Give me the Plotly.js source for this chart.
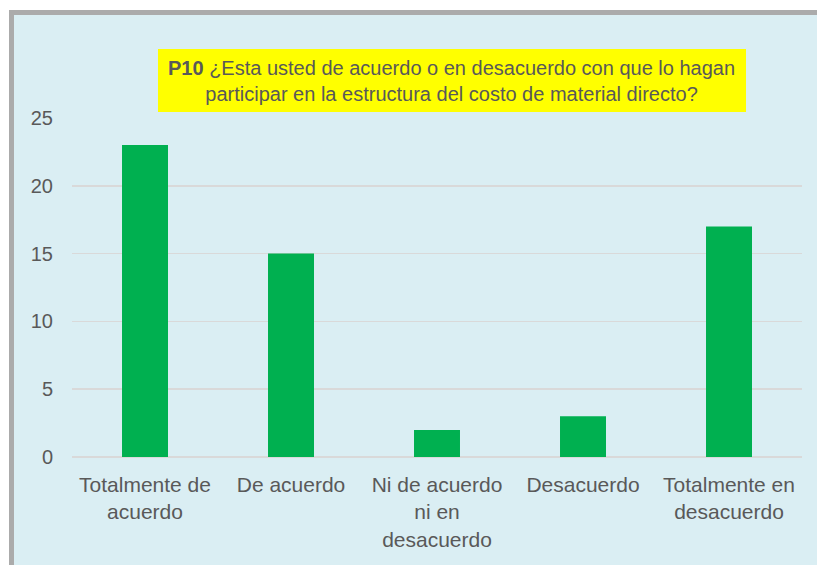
<!DOCTYPE html>
<html>
<head>
<meta charset="utf-8">
<script src="https://cdn.plot.ly/plotly-3.0.1.min.js"></script>
<style>
  html, body { margin:0; padding:0; background:#ffffff; width:817px; height:565px; overflow:hidden; }
  #frame { position:absolute; left:9px; top:10px; width:820px; height:570px;
           background:#DAEEF3; border-left:5px solid #ABABAB; border-top:5px solid #ABABAB; }
  #chart { position:absolute; left:0; top:0; width:817px; height:565px; }
</style>
</head>
<body>
<div id="frame"></div>
<div id="chart"></div>
<script>
const categories = ["Totalmente de<br>acuerdo", "De acuerdo", "Ni de acuerdo<br>ni en<br>desacuerdo", "Desacuerdo", "Totalmente en<br>desacuerdo"];
const values = [23, 15, 2, 3, 17];
const yTicks = [0, 5, 10, 15, 20, 25];
const titleText = "<b>P10</b> ¿Esta usted de acuerdo o en desacuerdo con que lo hagan<br>participar en la estructura del costo de material directo?";

const font = "Liberation Sans, Arial, sans-serif";
Plotly.newPlot("chart", [{
  type: "bar",
  x: categories,
  y: values,
  marker: { color: "#00B050" },
  hoverinfo: "none"
}], {
  width: 817, height: 565,
  paper_bgcolor: "rgba(0,0,0,0)",
  plot_bgcolor: "rgba(0,0,0,0)",
  margin: { l: 72, r: 15, t: 118, b: 108 },
  bargap: 0.685,
  showlegend: false,
  font: { family: font, size: 20, color: "#595959" },
  xaxis: {
    type: "category",
    showgrid: false,
    zeroline: false,
    showline: false,
    ticks: "",
    tickangle: 0,
    ticklabelstandoff: 13,
    tickfont: { family: font, size: 21, color: "#595959" }
  },
  yaxis: {
    range: [0, 25],
    tickvals: yTicks,
    showgrid: true,
    gridcolor: "#D9D9D9",
    gridwidth: 1.5,
    zeroline: true,
    zerolinecolor: "#D9D9D9",
    zerolinewidth: 1.5,
    showline: false,
    ticks: "",
    ticklabelstandoff: 18,
    tickfont: { family: font, size: 20, color: "#595959" }
  },
  shapes: [{
    type: "rect", xref: "paper", yref: "paper",
    x0: 0.1178, x1: 0.9233, y0: 1.0177, y1: 1.2035,
    fillcolor: "#FFFF00", line: { width: 0 }, layer: "below"
  }],
  annotations: [{
    xref: "paper", yref: "paper", x: 0.5205, y: 1.11,
    xanchor: "center", yanchor: "middle",
    text: titleText, showarrow: false, align: "center",
    font: { family: font, size: 20, color: "#595959" }
  }]
}, { displayModeBar: false, staticPlot: true });
</script>
</body>
</html>
